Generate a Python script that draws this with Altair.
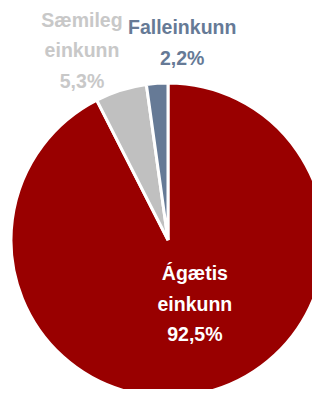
import altair as alt
import pandas as pd

categories = ["Ágætis einkunn", "Sæmileg einkunn", "Falleinkunn"]
values = [92.5, 5.3, 2.2]
slice_colors = ["#990000", "#C0C0C0", "#667A96"]
label_colors = ["#FFFFFF", "#C8C8C8", "#667A96"]

labels = [c.replace(" ", "\n") + "\n" + f"{v:.1f}".replace(".", ",") + "%" for c, v in zip(categories, values)]
df = pd.DataFrame({"cat": categories, "value": values, "rank": list(range(len(categories))), "label": labels})

theta_scale = alt.Scale(domain=[0, 100])
base = alt.Chart(df)

pie = base.mark_arc(radius=157, stroke="white", strokeWidth=3).encode(
    theta=alt.Theta("value:Q", stack=True, scale=theta_scale),
    color=alt.Color("cat:N", scale=alt.Scale(domain=categories, range=slice_colors), sort=categories, legend=None),
    order=alt.Order("rank:Q"),
    x=alt.value(160), y=alt.value(232),
)

mids = base.transform_window(
    cum="sum(value)", sort=[alt.SortField("rank")]
).transform_calculate(mid="datum.cum - datum.value / 2")

def label_layer(i, r, dx, dy):
    return mids.transform_filter(alt.datum.rank == i).mark_text(
        radius=r, dx=dx, dy=dy, lineBreak="\n", font="Liberation Sans", fontWeight="bold",
        fontSize=19.5, lineHeight=30.5, align="center", baseline="middle", color=label_colors[i],
    ).encode(
        theta=alt.Theta("mid:Q", scale=theta_scale),
        text="label:N",
        x=alt.value(160), y=alt.value(232),
    )

chart = alt.layer(
    pie,
    label_layer(0, 68, 11, -32),
    label_layer(1, 210, -23, -19),
    label_layer(2, 200, 28, -12),
).resolve_scale(theta="shared").properties(
    width=304, height=381, padding=0, autosize=alt.AutoSizeParams(type="none")
).configure_view(stroke=None)

chart.save("out.html", embed_options={"renderer": "svg", "actions": False})
